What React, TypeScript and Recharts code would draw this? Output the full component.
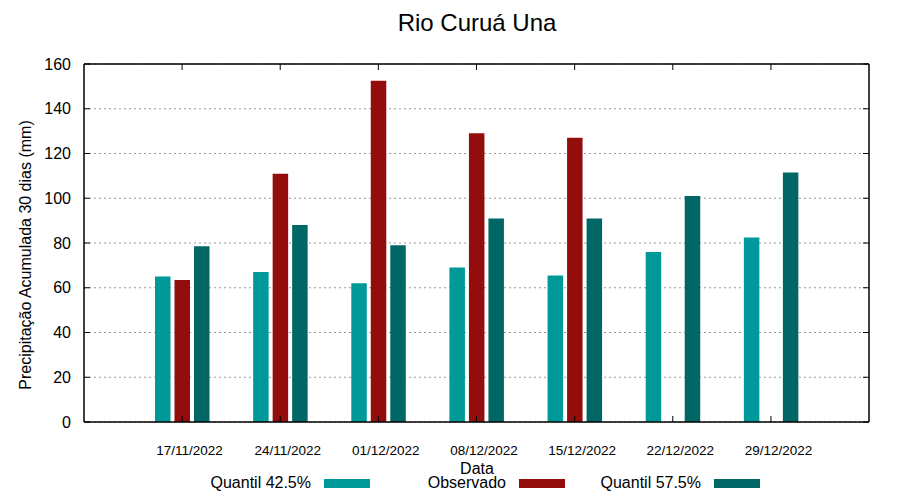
import { BarChart, Bar, XAxis, YAxis, CartesianGrid } from 'recharts'

// Rio Curuá Una: 30-day accumulated precipitation, observed vs quantiles
const dates = ['17/11/2022', '24/11/2022', '01/12/2022', '08/12/2022', '15/12/2022', '22/12/2022', '29/12/2022']
const quantil425 = [65, 67, 62, 69, 65.5, 76, 82.5]
const observado: (number | null)[] = [63.5, 111, 152.5, 129, 127, null, null]
const quantil575 = [78.5, 88, 79, 91, 91, 101, 111.5]
const yTicks = [0, 20, 40, 60, 80, 100, 120, 140, 160]

const series = [
  { key: 'q425', name: 'Quantil 42.5%', color: '#009999' },
  { key: 'obs', name: 'Observado', color: '#940d0d' },
  { key: 'q575', name: 'Quantil 57.5%', color: '#006666' },
]

const data = dates.map((d, i) => ({
  date: d,
  q425: quantil425[i],
  obs: observado[i],
  q575: quantil575[i],
}))

const W = 900
const H = 500
const PLOT_TOP = 64
const PLOT_LEFT = 84
const PLOT_RIGHT = 869
const PLOT_BOTTOM = 422
const FONT = '"Liberation Sans", Arial, sans-serif'

// bottom tick label plus inward tick marks at bottom and top of the frame
function XTick(props: any) {
  const { x, payload, index } = props
  return (
    <g>
      {index === 0 && <line x1={PLOT_LEFT} x2={PLOT_RIGHT} y1={PLOT_TOP} y2={PLOT_TOP} stroke="#000" strokeWidth={1.5} />}
      <line x1={x} x2={x} y1={PLOT_BOTTOM} y2={PLOT_BOTTOM - 6} stroke="#000" strokeWidth={1} />
      <line x1={x} x2={x} y1={PLOT_TOP} y2={PLOT_TOP + 6} stroke="#000" strokeWidth={1} />
      <text x={x + 7.5} y={455} textAnchor="middle" fontSize={13.5} fill="#000" fontFamily={FONT}>
        {payload.value}
      </text>
    </g>
  )
}

function YTick(props: any) {
  const { y, payload, index } = props
  return (
    <g>
      {index === 0 && <line x1={PLOT_RIGHT} x2={PLOT_RIGHT} y1={PLOT_TOP} y2={PLOT_BOTTOM} stroke="#000" strokeWidth={1.5} />}
      <line x1={PLOT_LEFT} x2={PLOT_LEFT + 6} y1={y} y2={y} stroke="#000" strokeWidth={1} />
      <line x1={PLOT_RIGHT - 6} x2={PLOT_RIGHT} y1={y} y2={y} stroke="#000" strokeWidth={1} />
      <text x={71} y={y + 5.5} textAnchor="end" fontSize={16} fill="#000" fontFamily={FONT}>
        {payload.value}
      </text>
    </g>
  )
}

export default function App() {
  return (
    <div style={{ position: 'absolute', left: 0, top: 0, width: W, height: H, background: '#fff', fontFamily: FONT }}>
      <div style={{ position: 'absolute', left: 0, top: 8, width: 954, textAlign: 'center', fontSize: 24, lineHeight: '30px', color: '#000' }}>
        Rio Curuá Una
      </div>
      <BarChart
        width={W}
        height={H}
        data={data}
        margin={{ top: PLOT_TOP, right: W - PLOT_RIGHT, bottom: H - PLOT_BOTTOM - 30, left: 0 }}
        barSize={15.5}
        barGap={4}
      >
        <CartesianGrid vertical={false} stroke="#999" strokeDasharray="2 3" />
        <XAxis
          dataKey="date"
          height={30}
          padding={{ left: 49, right: 49 }}
          tickLine={false}
          axisLine={{ stroke: '#000', strokeWidth: 1.5 }}
          tick={<XTick />}
          interval={0}
          label={{
            content: () => (
              <text x={477} y={474} textAnchor="middle" fontSize={16} fill="#000" fontFamily={FONT}>
                Data
              </text>
            ),
          }}
        />
        <YAxis
          width={PLOT_LEFT}
          domain={[0, 160]}
          ticks={yTicks}
          tickLine={false}
          axisLine={{ stroke: '#000', strokeWidth: 1.5 }}
          tick={<YTick />}
          label={{
            content: () => (
              <text x={0} y={0} transform="translate(31,255) rotate(-90)" textAnchor="middle" fontSize={16} fill="#000" fontFamily={FONT}>
                Precipitação Acumulada 30 dias (mm)
              </text>
            ),
          }}
        />
        {series.map((s) => (
          <Bar key={s.key} dataKey={s.key} name={s.name} fill={s.color} isAnimationActive={false} />
        ))}
      </BarChart>
      <div style={{ position: 'absolute', left: 175, top: 474, display: 'flex', fontSize: 16, lineHeight: '18px', color: '#000' }}>
        {series.map((s) => (
          <div key={s.key} style={{ width: 195, display: 'flex', alignItems: 'center' }}>
            <span style={{ width: 136, textAlign: 'right' }}>{s.name}</span>
            <span style={{ width: 46, height: 9, marginLeft: 13, background: s.color, display: 'inline-block' }} />
          </div>
        ))}
      </div>
    </div>
  )
}
